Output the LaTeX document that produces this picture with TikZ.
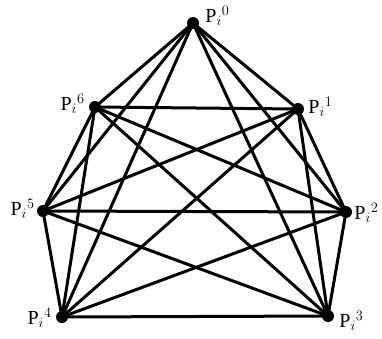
\documentclass[tikz,border=0pt]{standalone}
\usepackage{fontspec}
\setmainfont{Liberation Serif}
\usetikzlibrary{calc, positioning}

\begin{document}
\begin{tikzpicture}[
    x=1pt, y=-1pt,
    vert/.style={circle, fill=black, inner sep=0pt, minimum size=12pt},
    lab/.style={font=\fontsize{20}{22}\selectfont, inner sep=0pt},
    link/.style={line width=3pt, line cap=round},
    node distance=5pt
]
    \useasboundingbox (0,0) rectangle (382,338);
    % the seven points
    \node[vert] (p0) at (193,23)  {};
    \node[vert] (p1) at (298,109) {};
    \node[vert] (p2) at (346,212) {};
    \node[vert] (p3) at (328,316) {};
    \node[vert] (p4) at (62,317)  {};
    \node[vert] (p5) at (43,211)  {};
    \node[vert] (p6) at (95,107)  {};

    % every pair joined
    \foreach \a in {0,...,6}{
        \foreach \b in {0,...,6}{
            \ifnum\a<\b
                \draw[link] (p\a.center) -- (p\b.center);
            \fi
        }
    }

    \node[lab, right=6pt of p0, yshift=7pt]  (l0) {P$_i{}^0$};
    \node[lab, right=4pt of p1, yshift=2pt]  (l1) {P$_i{}^1$};
    \node[lab, right=2pt of p2, yshift=-1pt] (l2) {P$_i{}^2$};
    \node[lab, right=5pt of p3, yshift=-5pt] (l3) {P$_i{}^3$};
    \node[lab, left=4pt of p4, yshift=-1pt]  (l4) {P$_i{}^4$};
    \node[lab, left=2pt of p5, yshift=2pt]   (l5) {P$_i{}^5$};
    \node[lab, left=4pt of p6, yshift=3pt]   (l6) {P$_i{}^6$};
\end{tikzpicture}
\end{document}
